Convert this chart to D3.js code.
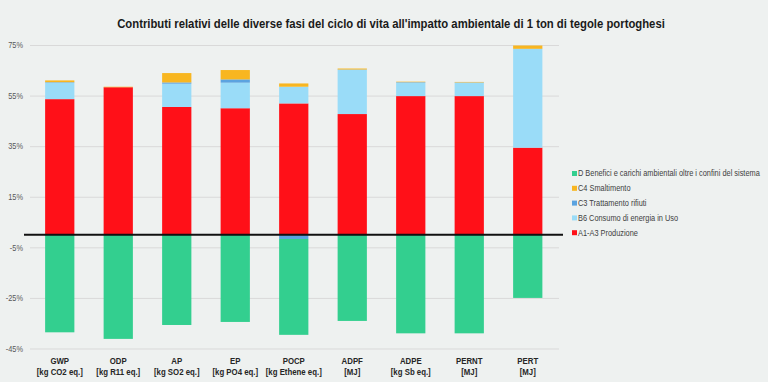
<!DOCTYPE html>
<html>
<head>
<meta charset="utf-8">
<script src="https://cdn.jsdelivr.net/npm/d3@7"></script>
<style>
  html, body { margin: 0; padding: 0; background: #eef1f0; }
  svg { display: block; }
  text { font-family: "Liberation Sans", Arial, sans-serif; }
</style>
</head>
<body>
<svg id="chart" width="768" height="382"></svg>
<script>
const categories = ["GWP", "ODP", "AP", "EP", "POCP", "ADPF", "ADPE", "PERNT", "PERT"];
const units = ["[kg CO2 eq.]", "[kg R11 eq.]", "[kg SO2 eq.]", "[kg PO4 eq.]", "[kg Ethene eq.]", "[MJ]", "[kg Sb eq.]", "[MJ]", "[MJ]"];
const seriesNames = ["A1-A3 Produzione", "B6 Consumo di energia in Uso", "C3 Trattamento rifiuti", "C4 Smaltimento", "D Benefici e carichi ambientali oltre i confini del sistema"];
const seriesKeys = ["A1A3", "B6", "C3", "C4", "D"];
const A1A3 = [53.6, 58.3, 50.5, 50.0, 51.9, 47.7, 54.8, 54.8, 34.4];
const B6 = [6.5, 0.0, 9.2, 10.1, 6.6, 17.5, 5.3, 5.3, 39.0];
const C3 = [0.2, 0.0, 0.5, 1.3, -1.7, 0.1, 0.2, 0.1, 0.1];
const C4 = [0.7, 0.2, 3.7, 3.7, 1.3, 0.4, 0.2, 0.2, 1.3];
const D = [-38.6, -41.2, -35.7, -34.5, -37.9, -34.1, -39.0, -39.0, -25.0];
const tickValues = [-45, -25, -5, 15, 35, 55, 75];
const colors = ["#ff1018", "#9adcf8", "#5ba3e0", "#f8b620", "#33cf8f"];
const title = "Contributi relativi delle diverse fasi del ciclo di vita all'impatto ambientale di 1 ton di tegole portoghesi";

const values = {A1A3, B6, C3, C4, D};
const rows = categories.map((c, i) => {
  const r = {cat: c};
  seriesKeys.forEach(k => r[k] = values[k][i]);
  return r;
});

// narrow the Arial-metric text horizontally to resemble Calibri proportions
const NARROW = 0.87;
function condense(sel) {
  sel.each(function() {
    const ax = +(this.getAttribute("x") || 0);
    d3.select(this).attr("transform", `translate(${ax},0) scale(${NARROW},1) translate(${-ax},0)`);
  });
}

const svg = d3.select("#chart");
svg.append("rect").attr("width", 768).attr("height", 382).attr("fill", "#eef1f0");

const x = d3.scaleBand().domain(categories).range([30.5, 557]).paddingInner(0.5).paddingOuter(0.25);
const y = d3.scaleLinear().domain([-45, 75]).range([348.5, 45]);
const color = d3.scaleOrdinal().domain(seriesKeys).range(colors);

// title
svg.append("text")
  .attr("x", 391).attr("y", 28)
  .attr("text-anchor", "middle")
  .attr("font-size", 13).attr("font-weight", "bold").attr("fill", "#1a1a1a")
  .text(title).call(condense);

// y axis with gridlines
const yAxis = d3.axisLeft(y).tickValues(tickValues).tickFormat(d => d + "%").tickSize(-(559 - 30)).tickPadding(7);
const gy = svg.append("g").attr("transform", "translate(30,0)").call(yAxis);
gy.select(".domain").remove();
gy.selectAll(".tick line").attr("stroke", "#d9d9d9").attr("stroke-width", 1);
gy.selectAll(".tick text").attr("font-size", 8.5).attr("fill", "#595959")
  .style("font-family", "'Liberation Sans', Arial, sans-serif").call(condense);

// stacked bars
const stack = d3.stack().keys(seriesKeys).offset(d3.stackOffsetDiverging);
const layers = stack(rows);
svg.append("g").selectAll("g").data(layers).join("g")
  .attr("fill", d => color(d.key))
  .selectAll("rect").data(d => d).join("rect")
  .attr("x", d => x(d.data.cat))
  .attr("width", x.bandwidth())
  .attr("y", d => y(Math.max(d[0], d[1])))
  .attr("height", d => Math.abs(y(d[0]) - y(d[1])));

// zero line
svg.append("line")
  .attr("x1", 24).attr("x2", 563)
  .attr("y1", y(0)).attr("y2", y(0))
  .attr("stroke", "#111").attr("stroke-width", 2);

// x axis labels
const xAxis = d3.axisBottom(x).tickSize(0).tickFormat("");
const gx = svg.append("g").attr("transform", "translate(0,350)").call(xAxis);
gx.select(".domain").remove();
gx.selectAll(".tick").each(function(d, i) {
  const t = d3.select(this);
  t.append("text").attr("y", 14).attr("text-anchor", "middle")
    .attr("font-size", 9).attr("font-weight", "bold").attr("fill", "#262626").text(d).call(condense);
  t.append("text").attr("y", 25).attr("text-anchor", "middle")
    .attr("font-size", 9).attr("font-weight", "bold").attr("fill", "#262626").text(units[i]).call(condense);
});

// legend
const legendOrder = [4, 3, 2, 1, 0];
const lg = svg.append("g").attr("transform", "translate(572,0)");
legendOrder.forEach((si, j) => {
  const yy = 173.5 + j * 14.8;
  lg.append("rect").attr("x", 0).attr("y", yy - 2.5).attr("width", 5).attr("height", 5).attr("fill", colors[si]);
  lg.append("text").attr("x", 6).attr("y", yy + 3).attr("font-size", 8.5).attr("fill", "#404040").text(seriesNames[si]).call(condense);
});
</script>
</body>
</html>
